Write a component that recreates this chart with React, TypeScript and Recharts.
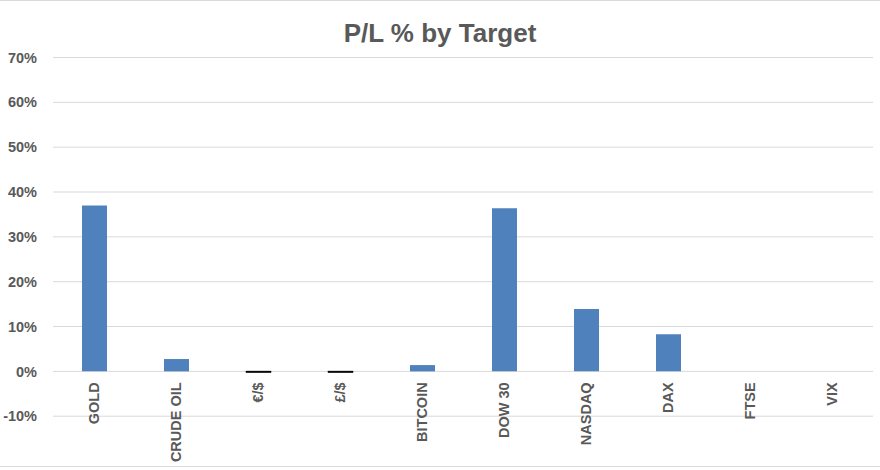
import React from 'react';
import { BarChart, Bar, XAxis, YAxis, CartesianGrid, Cell } from 'recharts';

// P/L per target, as fractions (0.37 = 37%)
const targets = ['GOLD', 'CRUDE OIL', '€/$', '£/$', 'BITCOIN', 'DOW 30', 'NASDAQ', 'DAX', 'FTSE', 'VIX'];
const plValues = [0.37, 0.0275, -0.002, -0.002, 0.014, 0.364, 0.139, 0.083, 0, 0];
const yTicks = [-0.1, 0, 0.1, 0.2, 0.3, 0.4, 0.5, 0.6, 0.7];
const yDomain = [-0.1, 0.7];

const data = targets.map((name, i) => ({ name, value: plValues[i] }));

const TEXT = '#595959';
const BAR = '#4F81BD';
const GRID = '#D9D9D9';
const FONT = '"Liberation Sans", Arial, sans-serif';

const WIDTH = 880;
const HEIGHT = 470;
const X_AXIS_H = 30;
const MARGIN = { top: 57.5, right: 7, bottom: 53.8 - X_AXIS_H, left: 0 };
const plotHeight = HEIGHT - MARGIN.top - MARGIN.bottom - X_AXIS_H;
// category labels sit on the 0% line, not at the bottom of the plot
const zeroLift = plotHeight * (0 - yDomain[0]) / (yDomain[1] - yDomain[0]);

const CategoryTick = (props: any) => {
  const { x, y, payload } = props;
  return <g transform={`translate(${x},${y - zeroLift + 11})`}>
      <text transform="rotate(-90)" dy="0.36em" textAnchor="end" fill={TEXT} fontSize={14.5} fontWeight="bold" fontFamily={FONT}>
        {payload.value}
      </text>
    </g>;
};

const App = () => {
  return <div style={{
    position: 'fixed',
    left: 0,
    top: 0,
    width: WIDTH,
    height: HEIGHT,
    background: '#fff',
    overflow: 'hidden'
  }}>
      <div style={{ position: 'absolute', left: 0, top: 0, width: WIDTH, borderTop: `1px solid ${GRID}` }} />
      <div style={{ position: 'absolute', left: 0, top: 466, width: WIDTH, borderTop: `1px solid ${GRID}` }} />
      <BarChart width={WIDTH} height={HEIGHT} data={data} margin={MARGIN} style={{ position: 'absolute', left: 0, top: 0 }}>
        <CartesianGrid vertical={false} stroke={GRID} strokeWidth={1} />
        <XAxis dataKey="name" height={X_AXIS_H} axisLine={false} tickLine={false} tickSize={0} tickMargin={0} interval={0} tick={CategoryTick} />
        <YAxis domain={yDomain} ticks={yTicks} width={53} axisLine={false} tickLine={false} tickSize={0} tickMargin={16} interval={0} tickFormatter={(v: number) => `${Math.round(v * 100)}%`} tick={{
        fill: TEXT,
        fontSize: 14.5,
        fontWeight: 'bold',
        fontFamily: FONT
      }} />
        <Bar dataKey="value" barSize={25} fill={BAR} isAnimationActive={false}>
          {data.map((d, i) => <Cell key={`cell-${i}`} fill={d.value < 0 ? '#000' : BAR} stroke={d.value < 0 ? '#000' : 'none'} strokeWidth={1} />)}
        </Bar>
      </BarChart>
      <svg width={WIDTH} height={60} style={{ position: 'absolute', left: 0, top: 0, pointerEvents: 'none' }}>
        <text x={440} y={41.7} textAnchor="middle" fill={TEXT} fontSize={26} fontWeight="bold" fontFamily={FONT}>
          P/L % by Target
        </text>
      </svg>
    </div>;
};

export default App;
